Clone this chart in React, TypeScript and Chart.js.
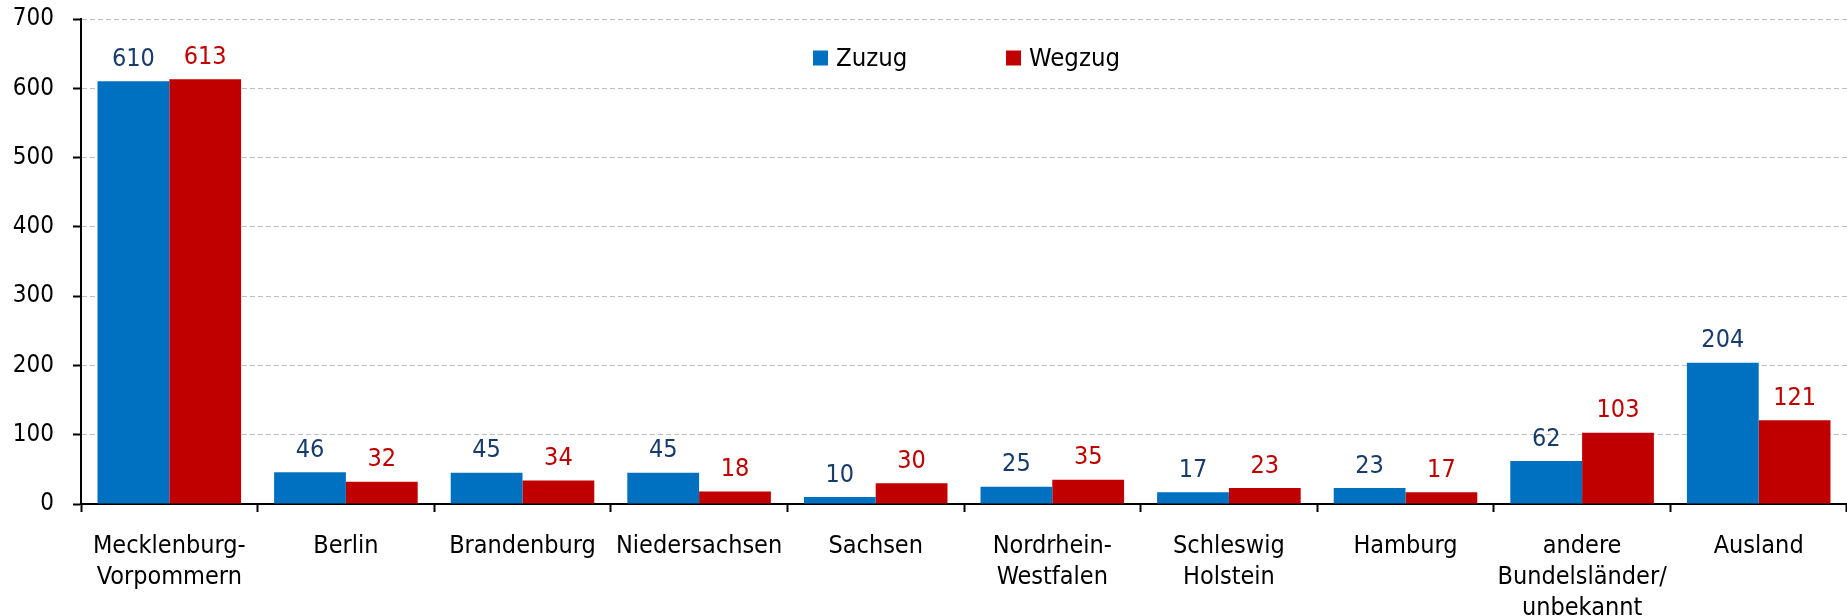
import { useEffect, useRef } from 'react';
import { Chart, registerables } from 'chart.js';

Chart.register(...registerables);

const categories: (string | string[])[] = [
  ['Mecklenburg-', 'Vorpommern'],
  'Berlin',
  'Brandenburg',
  'Niedersachsen',
  'Sachsen',
  ['Nordrhein-', 'Westfalen'],
  ['Schleswig', 'Holstein'],
  'Hamburg',
  ['andere', 'Bundelsländer/', 'unbekannt'],
  'Ausland',
];
const zuzug = [610, 46, 45, 45, 10, 25, 17, 23, 62, 204];
const wegzug = [613, 32, 34, 18, 30, 35, 23, 17, 103, 121];
const seriesNames = ['Zuzug', 'Wegzug'];
const yMin = 0;
const yMax = 700;
const yStep = 100;

const FONT = "'DejaVu Sans Condensed', 'DejaVu Sans', sans-serif";
const BAR_COLORS = ['#0070C0', '#C00000'];
const LABEL_COLORS = ['#173C6C', '#C00000'];

const dataLabelPlugin = {
  id: 'dataLabels',
  afterDatasetsDraw(chart: any) {
    const { ctx } = chart;
    ctx.save();
    ctx.font = `25px ${FONT}`;
    ctx.textAlign = 'center';
    ctx.textBaseline = 'alphabetic';
    chart.data.datasets.forEach((ds: any, di: number) => {
      const meta = chart.getDatasetMeta(di);
      ctx.fillStyle = LABEL_COLORS[di];
      meta.data.forEach((el: any, i: number) => {
        ctx.fillText(String(ds.data[i]), el.x, el.y - 15.5);
      });
    });
    ctx.restore();
  },
};

const legendPlugin = {
  id: 'customLegend',
  afterDraw(chart: any) {
    const { ctx } = chart;
    ctx.save();
    ctx.font = `25.5px ${FONT}`;
    ctx.textBaseline = 'alphabetic';
    ctx.textAlign = 'left';
    chart.data.datasets.forEach((ds: any, i: number) => {
      const x = 813 + i * 193;
      ctx.fillStyle = ds.backgroundColor;
      ctx.fillRect(x, 50.5, 15, 15);
      ctx.fillStyle = '#000';
      ctx.fillText(ds.label, x + 23, 66);
    });
    ctx.restore();
  },
};

export default function App() {
  const canvasRef = useRef<HTMLCanvasElement | null>(null);

  useEffect(() => {
    document.body.style.margin = '0';
    const canvas = canvasRef.current;
    if (!canvas) return;
    const chart = new Chart(canvas, {
      type: 'bar',
      data: {
        labels: categories,
        datasets: [
          { label: seriesNames[0], data: zuzug, backgroundColor: BAR_COLORS[0], borderWidth: 0 },
          { label: seriesNames[1], data: wegzug, backgroundColor: BAR_COLORS[1], borderWidth: 0 },
        ],
      },
      options: {
        animation: false,
        responsive: true,
        maintainAspectRatio: false,
        devicePixelRatio: 1,
        layout: { padding: { top: 19, right: 0, bottom: 0, left: 0 } },
        plugins: {
          legend: { display: false },
          tooltip: { enabled: false },
        },
        datasets: {
          bar: { categoryPercentage: 0.813, barPercentage: 1.0 },
        },
        scales: {
          x: {
            offset: true,
            grid: {
              display: true,
              offset: true,
              drawOnChartArea: false,
              drawTicks: true,
              tickLength: 8,
              tickColor: '#000',
              tickWidth: 2,
            },
            border: { display: true, color: '#000', width: 2 },
            ticks: {
              color: '#000',
              font: { family: FONT, size: 25, lineHeight: 1.24 },
              padding: 19,
              maxRotation: 0,
              autoSkip: false,
            },
            afterFit(scale: any) {
              scale.height = 112;
              scale.paddingLeft = 0;
              scale.paddingRight = 0;
            },
          },
          y: {
            min: yMin,
            max: yMax,
            grid: {
              color: (c: any) => (c.tick && c.tick.value === 0 ? 'rgba(0,0,0,0)' : '#BFBFBF'),
              lineWidth: 1,
              drawTicks: true,
              tickLength: 8,
              tickColor: '#000',
              tickWidth: 2,
              tickBorderDash: [],
            },
            border: { display: true, color: '#000', width: 2, dash: [5, 3] },
            ticks: {
              stepSize: yStep,
              color: '#000',
              font: { family: FONT, size: 24 },
              padding: 19,
            },
            afterFit(scale: any) {
              scale.width = 81;
              scale.paddingTop = 0;
              scale.paddingBottom = 0;
            },
          },
        },
      },
      plugins: [dataLabelPlugin, legendPlugin],
    });
    return () => chart.destroy();
  }, []);

  return (
    <div style={{ position: 'relative', width: '1847px', height: '616px', background: '#fff' }}>
      <canvas ref={canvasRef} />
    </div>
  );
}
